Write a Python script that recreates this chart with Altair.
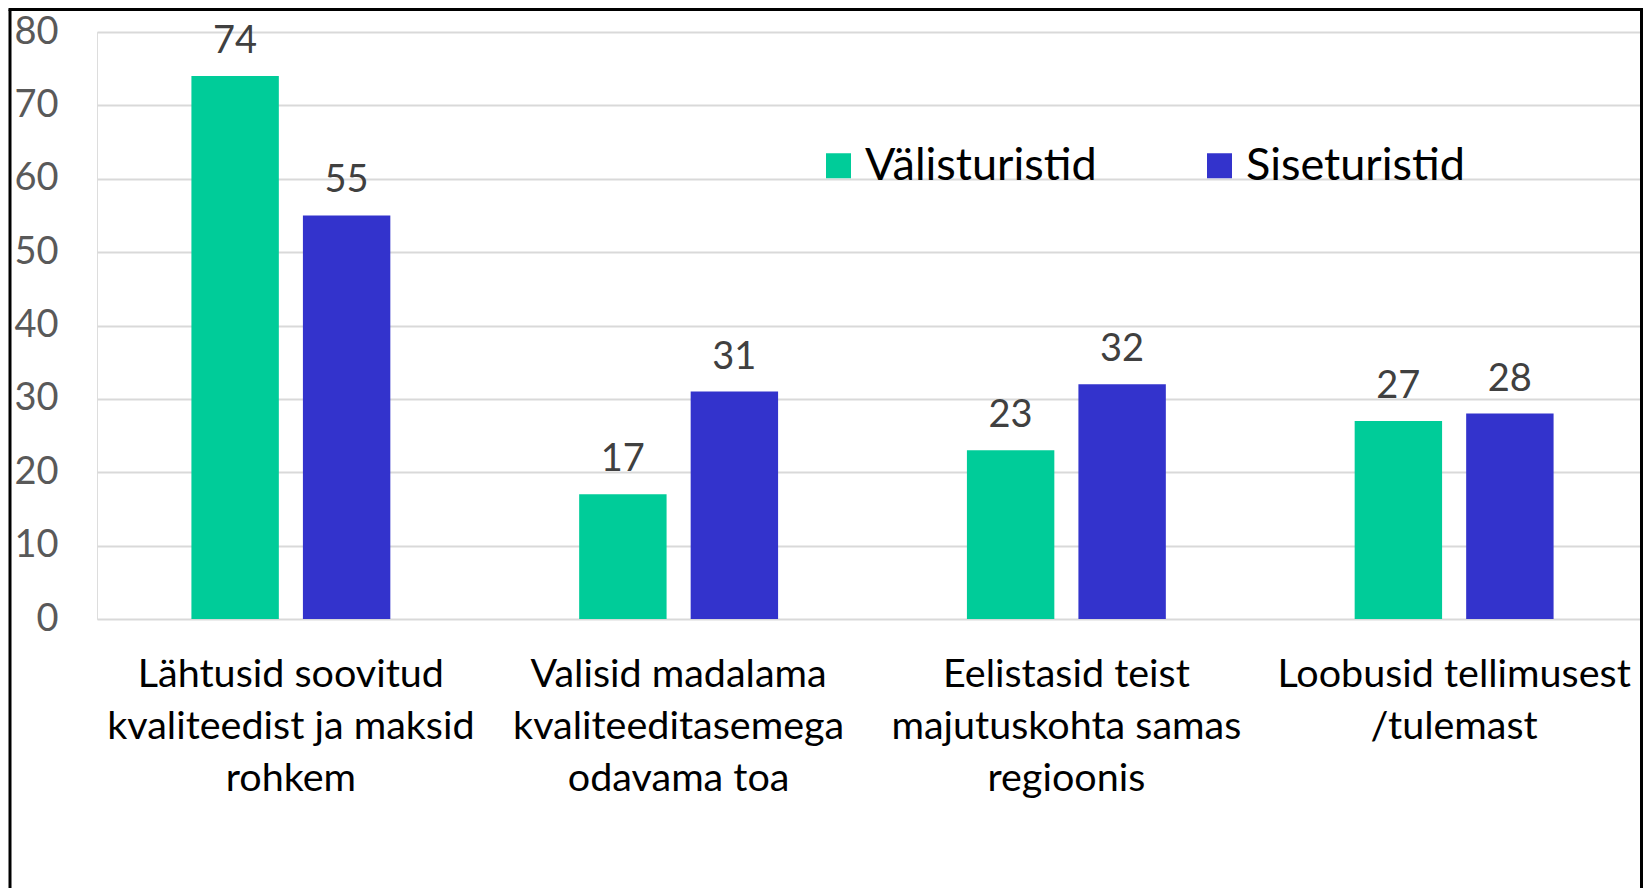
import altair as alt
import pandas as pd

categories = [
    "Lähtusid soovitud\nkvaliteedist ja maksid\nrohkem",
    "Valisid madalama\nkvaliteeditasemega\nodavama toa",
    "Eelistasid teist\nmajutuskohta samas\nregioonis",
    "Loobusid tellimusest\n/tulemast",
]
series = ["Välisturistid", "Siseturistid"]
valisturistid = [74, 17, 23, 27]
siseturistid = [55, 31, 32, 28]
colors = ["#00CC99", "#3333CC"]
y_ticks = [0, 10, 20, 30, 40, 50, 60, 70, 80]

rows = []
for i, c in enumerate(categories):
    rows.append({"category": c, "series": series[0], "value": valisturistid[i]})
    rows.append({"category": c, "series": series[1], "value": siseturistid[i]})
df = pd.DataFrame(rows)

FONT = "Lato"
W, H = 1544, 587
X_SPAN = 1551

x_enc = alt.X(
    "category:N", sort=categories, title=None,
    scale=alt.Scale(paddingInner=0.487, paddingOuter=0.2435, range=[0, X_SPAN]),
    axis=alt.Axis(labelAngle=0, labelExpr="split(datum.label, '\\n')",
                  labelFont=FONT, labelFontSize=39.5, labelColor="#000000",
                  labelLineHeight=52, labelPadding=36, ticks=False,
                  domain=False, labelLimit=0),
)
xo_enc = alt.XOffset("series:N", sort=series, scale=alt.Scale(paddingInner=0.216))
y_enc = alt.Y(
    "value:Q", scale=alt.Scale(domain=[0, 80]),
    axis=alt.Axis(values=y_ticks, title=None, domain=False, ticks=False,
                  labelPadding=39, labelFont=FONT, labelFontSize=38,
                  labelColor="#595959", gridColor="#D9D9D9", gridWidth=2),
)

bars = alt.Chart(df).mark_bar().encode(
    x=x_enc, xOffset=xo_enc, y=y_enc,
    color=alt.Color(
        "series:N", sort=series,
        scale=alt.Scale(domain=series, range=colors),
        legend=alt.Legend(
            title=None, orient="none", direction="horizontal",
            legendX=719, legendY=111,
            symbolType="square", symbolSize=625, symbolStrokeWidth=0,
            symbolOpacity=1,
            labelFont=FONT, labelFontSize=45, labelColor="#000000",
            labelOffset=4, columnPadding=100, labelLimit=0,
        ),
    ),
)

labels = alt.Chart(df).mark_text(
    font=FONT, fontSize=38, color="#404040", baseline="alphabetic", dy=-23
).encode(x=x_enc, xOffset=xo_enc, y=y_enc, text=alt.Text("value:Q"))

one = pd.DataFrame({"k": [0]})
border_left = alt.Chart(one).mark_rule(color="#000000", strokeWidth=3).encode(
    x=alt.value(-87), y=alt.value(-22.5), y2=alt.value(880))
border_right = alt.Chart(one).mark_rule(color="#000000", strokeWidth=3).encode(
    x=alt.value(W + 0.5), y=alt.value(-22.5), y2=alt.value(880))
border_top = alt.Chart(one).mark_rule(color="#000000", strokeWidth=3).encode(
    x=alt.value(-88.5), x2=alt.value(W + 2), y=alt.value(-22.5))

chart = alt.layer(bars, labels, border_left, border_right, border_top).properties(
    width=W, height=H,
    autosize=alt.AutoSizeParams(type="none"),
    padding={"left": 89, "top": 24, "right": 2, "bottom": 269},
).configure_view(strokeWidth=0).configure(background="white")

chart.save("out.html", embed_options={"renderer": "svg", "actions": False})
